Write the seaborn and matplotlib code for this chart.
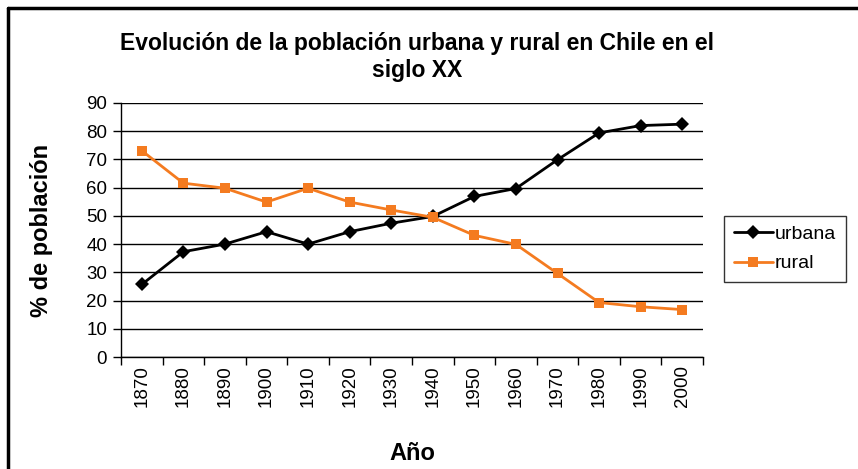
import pandas as pd
import seaborn as sns
import matplotlib.pyplot as plt
from matplotlib.lines import Line2D
from matplotlib.ticker import FixedLocator

# datos
anios = ['1870', '1880', '1890', '1900', '1910', '1920', '1930',
         '1940', '1950', '1960', '1970', '1980', '1990', '2000']
urbana = [25.7, 37.3, 40.0, 44.4, 40.0, 44.4, 47.4,
          49.8, 56.9, 59.7, 69.9, 79.4, 82.0, 82.5]
rural = [73.1, 61.6, 59.8, 54.9, 59.8, 54.9, 52.1,
         49.5, 43.1, 39.9, 29.6, 19.3, 17.8, 16.8]
series = ['urbana', 'rural']

df = pd.DataFrame({'pos': list(range(len(anios))) * 2,
                   'valor': urbana + rural,
                   'serie': ['urbana'] * len(anios) + ['rural'] * len(anios)})

sns.set_style('white')
plt.rcParams['font.family'] = ['Liberation Sans', 'DejaVu Sans']
plt.rcParams['text.color'] = 'black'
plt.rcParams['axes.labelcolor'] = 'black'
plt.rcParams['xtick.color'] = 'black'
plt.rcParams['ytick.color'] = 'black'

fig = plt.figure(figsize=(8.58, 4.69), dpi=100)
ax = fig.add_axes([121 / 858, 1 - 357 / 469, 582 / 858, 254 / 469])

colores = {'urbana': 'black', 'rural': '#f47b20'}
sns.lineplot(data=df, x='pos', y='valor', hue='serie', style='serie',
             hue_order=series, style_order=series, palette=colores,
             markers={'urbana': 'D', 'rural': 's'}, dashes=False,
             markersize=7, markeredgewidth=0, linewidth=2, legend=False, ax=ax)

ax.set_xlim(-0.5, len(anios) - 0.5)
ax.set_ylim(0, 90)
ax.set_yticks(range(0, 91, 10))
ax.yaxis.grid(True, color='black', linewidth=1)
ax.set_axisbelow(True)
ax.set_xticks(range(len(anios)))
ax.set_xticklabels(anios, rotation=90)
ax.xaxis.set_minor_locator(FixedLocator([i - 0.5 for i in range(len(anios) + 1)]))
ax.tick_params(axis='x', which='major', length=0, labelsize=13.5, pad=6)
ax.tick_params(axis='x', which='minor', length=6, width=1, color='black', direction='out', bottom=True)
ax.tick_params(axis='y', length=6, width=1, color='black', direction='out', left=True, labelsize=13.5, pad=4)
for s in ['top', 'right']:
    ax.spines[s].set_visible(False)
for s in ['left', 'bottom']:
    ax.spines[s].set_color('black')
    ax.spines[s].set_linewidth(1)

ax.set_xlabel('Año', fontsize=17, fontweight='bold', labelpad=25)
ax.set_ylabel('% de población', fontsize=17, fontweight='bold', labelpad=24)
fig.text(417 / 858, 1 - 57 / 469, 'Evolución de la población urbana y rural en Chile en el\nsiglo XX',
         ha='center', va='center', fontsize=16.5, fontweight='bold', linespacing=1.25)

handles = [Line2D([], [], color='black', marker='D', markersize=7, markeredgewidth=0, linewidth=2),
           Line2D([], [], color='#f47b20', marker='s', markersize=7, markeredgewidth=0, linewidth=2)]
leg = fig.legend(handles, series, loc='center left', bbox_to_anchor=(724 / 858, 1 - 249 / 469),
                 frameon=True, fancybox=False, fontsize=14, handlelength=2.0, handletextpad=0.1,
                 borderpad=0.5, labelspacing=0.6, borderaxespad=0)
leg.get_frame().set_edgecolor('black')
leg.get_frame().set_linewidth(1)

# borde del área del gráfico
fig.add_artist(Line2D([8 / 858, 1], [1 - 8 / 469, 1 - 8 / 469], color='black', linewidth=2.5,
                      transform=fig.transFigure))
fig.add_artist(Line2D([8 / 858, 8 / 858], [0, 1 - 8 / 469], color='black', linewidth=2.5,
                      transform=fig.transFigure))

fig.savefig('out.png', dpi=100)
